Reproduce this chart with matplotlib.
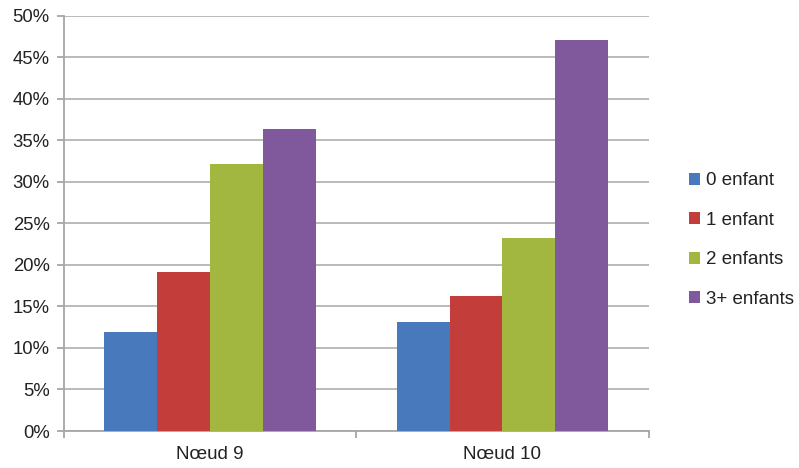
import matplotlib
matplotlib.use("Agg")
import matplotlib.pyplot as plt
import numpy as np
from matplotlib.patches import Patch

categories = ["Nœud 9", "Nœud 10"]
series_names = ["0 enfant", "1 enfant", "2 enfants", "3+ enfants"]
enfant0 = [11.9, 13.1]
enfant1 = [19.15, 16.25]
enfant2 = [32.15, 23.25]
enfant3 = [36.4, 47.1]
y_ticks = [0, 5, 10, 15, 20, 25, 30, 35, 40, 45, 50]

series_values = [enfant0, enfant1, enfant2, enfant3]
colors = ["#4879BC", "#C33E3A", "#A1B73F", "#80599C"]

plt.rcParams["font.family"] = ["Liberation Sans", "DejaVu Sans"]

fig = plt.figure(figsize=(7.99, 4.68), dpi=100)
ax = fig.add_axes([0.0795, 0.079, 0.7325, 0.8875])

x = np.arange(len(categories))
width = 0.181
offsets = (np.arange(len(series_names)) - 1.5) * width
for vals, off, col, name in zip(series_values, offsets, colors, series_names):
    ax.bar(x + off, vals, width=width, color=col, label=name, zorder=3, linewidth=0)

ax.set_xlim(-0.5, 1.5)
ax.set_ylim(0, 50)
ax.set_yticks(y_ticks)
ax.set_yticklabels([f"{v}%" for v in y_ticks])
ax.yaxis.grid(True, color="#b4b4b4", linewidth=1.3, zorder=0)
ax.set_axisbelow(True)

ax.set_xticks(x)
ax.set_xticklabels(categories)
ax.set_xticks([-0.5, 0.5, 1.5], minor=True)
ax.tick_params(axis="x", which="major", length=0, pad=11, labelsize=13.5, colors="#222222")
ax.tick_params(axis="x", which="minor", length=5, width=1.3, color="#a6a6a6", direction="out")
ax.tick_params(axis="y", length=5, width=1.3, color="#a6a6a6", labelsize=13.3,
               labelcolor="#222222", pad=5)

for s in ("top", "right"):
    ax.spines[s].set_visible(False)
for s in ("left", "bottom"):
    ax.spines[s].set_color("#a6a6a6")
    ax.spines[s].set_linewidth(1.3)

handles = [Patch(facecolor=c, edgecolor="none") for c in colors]
fig.legend(handles, series_names, loc="center left", bbox_to_anchor=(0.8525, 0.487),
           frameon=False, fontsize=13.5, handlelength=0.6, handleheight=0.6,
           handletextpad=0.3, labelspacing=1.2, borderaxespad=0, labelcolor="#222222")

fig.savefig("out.png", dpi=100)
